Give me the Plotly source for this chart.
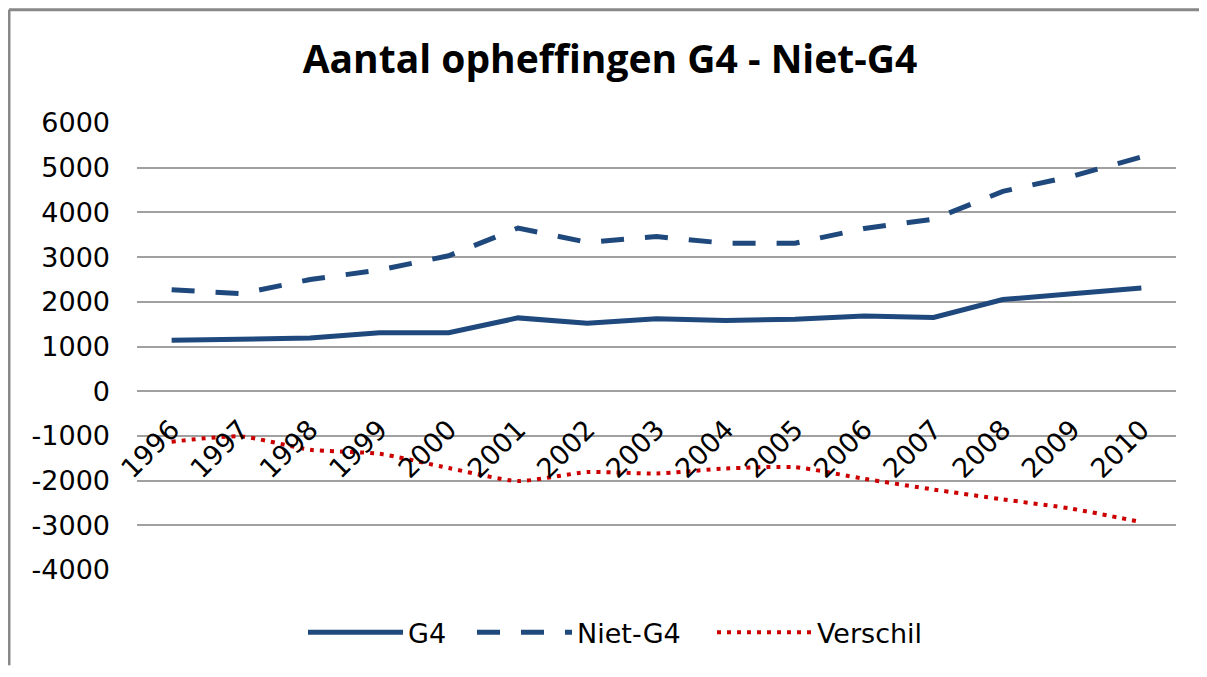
import plotly.graph_objects as go

years = ["1996", "1997", "1998", "1999", "2000", "2001", "2002", "2003",
         "2004", "2005", "2006", "2007", "2008", "2009", "2010"]
g4 = [1140, 1170, 1190, 1310, 1310, 1640, 1520, 1620, 1580, 1610, 1680, 1650, 2050, 2180, 2310]
niet_g4 = [2270, 2180, 2500, 2710, 3030, 3650, 3330, 3460, 3310, 3310, 3640, 3850, 4470, 4810, 5240]
verschil = [-1130, -1010, -1310, -1400, -1720, -2010, -1810, -1840, -1730, -1700, -1960, -2200, -2420, -2630, -2930]
y_ticks = [-4000, -3000, -2000, -1000, 0, 1000, 2000, 3000, 4000, 5000, 6000]
y_labels = [str(v) for v in y_ticks]

BLUE = "#1F497D"
RED = "#CC0000"

W, H = 1191, 661
L, R, T, B = 129, 23, 115, 96
PW, PH = W - L - R, H - T - B

fig = go.Figure()
fig.add_trace(go.Scatter(x=years, y=g4, name="G4", mode="lines", legend="legend",
                         line=dict(color=BLUE, width=5)))
fig.add_trace(go.Scatter(x=years, y=niet_g4, name="Niet-G4", mode="lines", legend="legend2",
                         line=dict(color=BLUE, width=5, dash="23px,21px")))
fig.add_trace(go.Scatter(x=years, y=verschil, name="Verschil", mode="lines", legend="legend3",
                         xaxis="x2",
                         line=dict(color=RED, width=4, dash="4px,6px",
                                   shape="spline", smoothing=0.6)))

leg_font = dict(family="DejaVu Sans", size=27, color="black")
leg_y = (T + PH - 628) / PH


def leg(px):
    return dict(orientation="h", x=(px - L) / PW, xanchor="left", y=leg_y,
                yanchor="middle", itemwidth=95, font=leg_font,
                bgcolor="rgba(0,0,0,0)")


fig.update_layout(
    width=W, height=H,
    margin=dict(l=L, r=R, t=T, b=B),
    paper_bgcolor="white", plot_bgcolor="white",
    title=dict(text="<b>Aantal opheffingen G4 - Niet-G4</b>",
               x=602 / W, xanchor="center", y=1 - 51 / H, yanchor="middle",
               font=dict(family="Open Sans", size=39, color="black")),
    xaxis=dict(type="category", categoryarray=years, range=[-0.5, 14.5],
               showticklabels=False, showgrid=False, zeroline=False,
               showline=False, ticks=""),
    xaxis2=dict(type="category", categoryarray=years, matches="x",
                overlaying="x", anchor="free", position=0.4,
                showgrid=False, zeroline=False, showline=False, ticks="",
                tickangle=-45, ticklabelstandoff=16,
                tickfont=dict(family="DejaVu Sans", size=27, color="black")),
    yaxis=dict(range=[-4000, 6000], tickvals=y_ticks, ticktext=y_labels,
               showgrid=True, gridcolor="#A0A0A0", gridwidth=1.5,
               zeroline=False, showline=False, ticks="",
               ticklabelstandoff=26,
               tickfont=dict(family="DejaVu Sans", size=27, color="black")),
    legend=leg(295),
    legend2=leg(464),
    legend3=leg(704),
    showlegend=True,
)

# chart frame (top and left border of the embedded chart)
top_y = 1 + (T - 1) / PH
left_x = -(L - 1) / PW
fig.add_shape(type="line", xref="paper", yref="paper",
              x0=left_x, x1=(W - L) / PW, y0=top_y, y1=top_y,
              line=dict(color="#888888", width=3))
fig.add_shape(type="line", xref="paper", yref="paper",
              x0=left_x, x1=left_x, y0=-B / PH, y1=top_y,
              line=dict(color="#888888", width=3))

fig.write_html("out.html")
